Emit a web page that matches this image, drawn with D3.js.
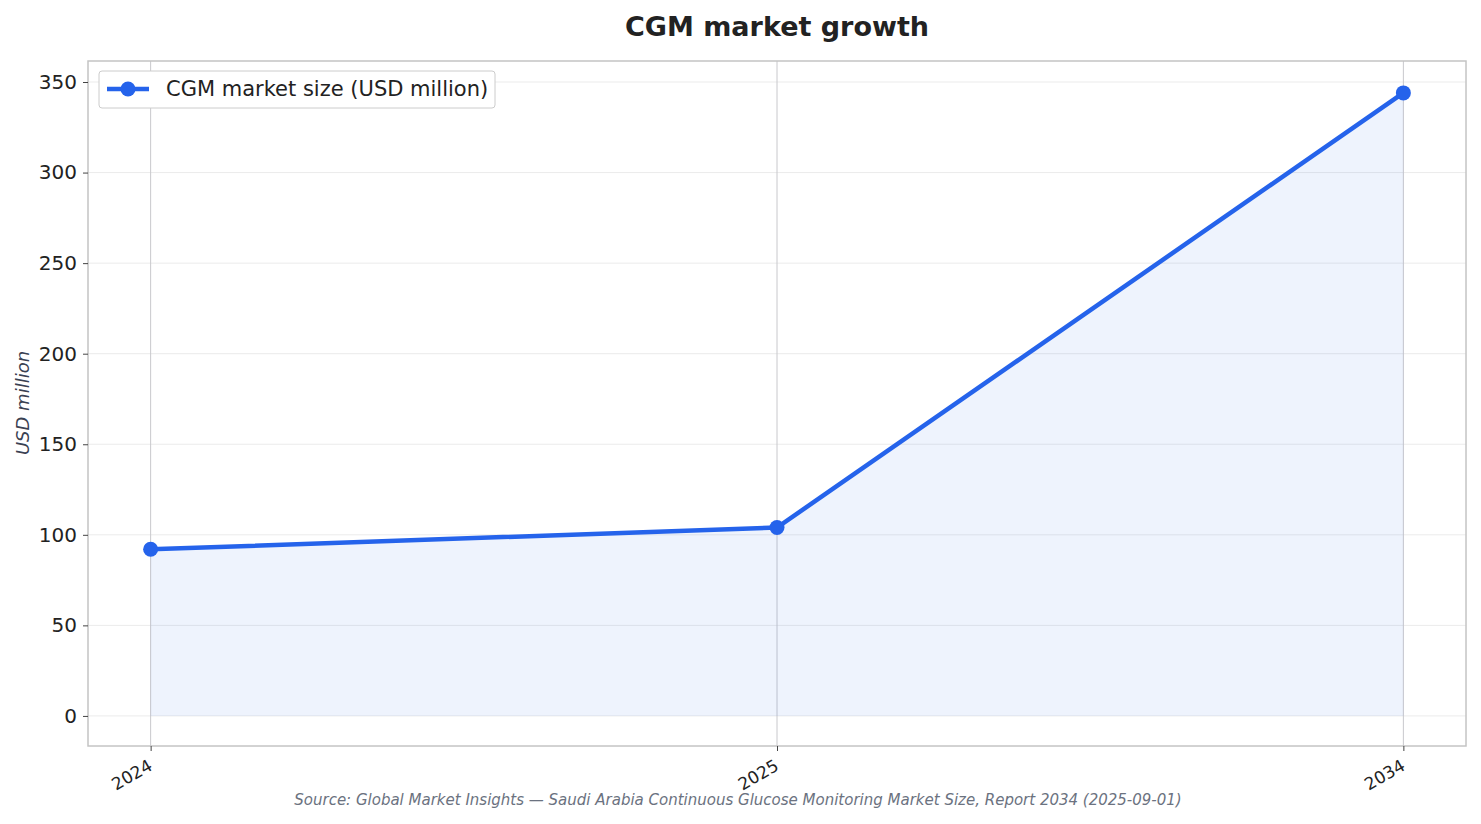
<!DOCTYPE html>
<html><head><meta charset="utf-8">
<script src="https://cdn.jsdelivr.net/npm/d3@7"></script>
<style>body{margin:0;background:#fff;font-family:"DejaVu Sans",sans-serif;}</style>
</head><body><svg id="c" width="1481" height="824"></svg>
<script>
const years = ["2024","2025","2034"];
const marketSize = [92, 104, 344];
const yTicks = [0,50,100,150,200,250,300,350];
const title = "CGM market growth";
const seriesName = "CGM market size (USD million)";
const source = "Source: Global Market Insights — Saudi Arabia Continuous Glucose Monitoring Market Size, Report 2034 (2025-09-01)";

const svg = d3.select("#c");
const L=88,R=1466,T=61,B=746;
const x = d3.scalePoint().domain(years).range([L,R]).padding(0.1);
const y = d3.scaleLinear().domain([-16.6,361.6]).range([B,T]);
const data = years.map((d,i)=>({k:d,v:marketSize[i]}));

svg.append("g").selectAll("line").data(yTicks).join("line")
 .attr("x1",L).attr("x2",R).attr("y1",d=>y(d)).attr("y2",d=>y(d))
 .attr("stroke","#ebebeb").attr("stroke-width",1);
svg.append("g").selectAll("line").data(years).join("line")
 .attr("x1",d=>x(d)).attr("x2",d=>x(d)).attr("y1",T).attr("y2",B)
 .attr("stroke","#c8c8cc").attr("stroke-width",1);
svg.append("path").datum(data)
 .attr("d",d3.area().x(d=>x(d.k)).y0(y(0)).y1(d=>y(d.v)))
 .attr("fill","#2563eb").attr("fill-opacity",0.08);
svg.append("path").datum(data)
 .attr("d",d3.line().x(d=>x(d.k)).y(d=>y(d.v)))
 .attr("fill","none").attr("stroke","#2563eb").attr("stroke-width",4.5);
svg.append("g").selectAll("circle").data(data).join("circle")
 .attr("cx",d=>x(d.k)).attr("cy",d=>y(d.v)).attr("r",7.5).attr("fill","#2563eb");
svg.append("rect").attr("x",L).attr("y",T).attr("width",R-L).attr("height",B-T)
 .attr("fill","none").attr("stroke","#c4c4c4").attr("stroke-width",1.5);
const ya = svg.append("g").attr("transform",`translate(${L},0)`)
 .call(d3.axisLeft(y).tickValues(yTicks).tickSize(5).tickPadding(6));
ya.select(".domain").remove();
ya.selectAll("line").attr("stroke","#444");
ya.selectAll("text").attr("font-size",20).attr("fill","#222").attr("font-family","DejaVu Sans");
const xa = svg.append("g").attr("transform",`translate(0,${B})`)
 .call(d3.axisBottom(x).tickSize(5));
xa.select(".domain").remove();
xa.selectAll("line").attr("stroke","#444");
xa.selectAll("text").attr("font-size",17).attr("fill","#222").attr("font-family","DejaVu Sans")
 .attr("text-anchor","end").attr("dy",null).attr("y",0)
 .attr("transform","translate(-4,12) rotate(-30)").attr("dominant-baseline","hanging");
svg.append("text").attr("x",777).attr("y",36).attr("text-anchor","middle")
 .attr("font-size",27).attr("font-weight","bold").attr("fill","#222").text(title);
svg.append("text").attr("transform","translate(29,403) rotate(-90)").attr("text-anchor","middle")
 .attr("font-size",18).attr("font-style","italic").attr("fill","#3a4152").text("USD million");
svg.append("text").attr("x",738).attr("y",805).attr("text-anchor","middle")
 .attr("font-size",15).attr("font-style","italic").attr("fill","#6b7280").text(source);
const lg = svg.append("g");
lg.append("rect").attr("x",99).attr("y",71).attr("width",396).attr("height",37).attr("rx",3)
 .attr("fill","#fff").attr("stroke","#cccccc");
lg.append("line").attr("x1",107).attr("x2",149).attr("y1",89).attr("y2",89).attr("stroke","#2563eb").attr("stroke-width",4.5);
lg.append("circle").attr("cx",128).attr("cy",89).attr("r",7.5).attr("fill","#2563eb");
lg.append("text").attr("x",166).attr("y",96).attr("font-size",21).attr("fill","#222").text(seriesName);
</script></body></html>
